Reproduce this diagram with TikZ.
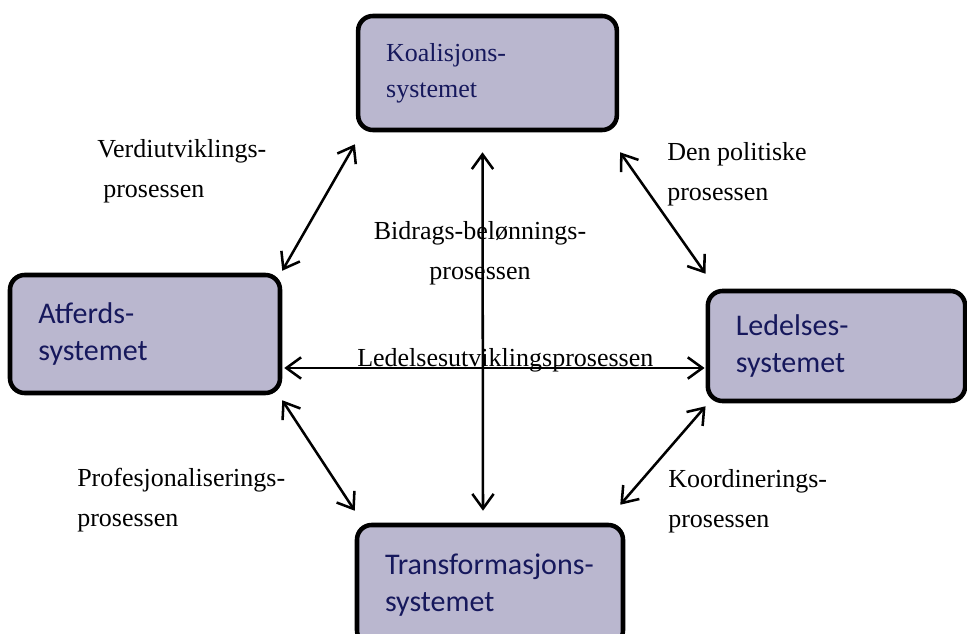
\documentclass[tikz,border=0pt]{standalone}
\usepackage{fontspec}
\setmainfont{Liberation Serif}
\newfontfamily\boxsans{Carlito}
\usetikzlibrary{arrows.meta,calc}
\definecolor{boxfill}{RGB}{186,183,207}
\definecolor{boxtext}{RGB}{22,24,92}
\tikzset{
  sysbox/.style={draw=black,line width=3.4pt,rounded corners=11pt,fill=boxfill,
    text=boxtext,align=left,inner xsep=0pt,inner ysep=0pt},
  syssans/.style={font=\boxsans\fontsize{22.5}{27.5}\selectfont},
  sysserif/.style={font=\fontsize{19.5}{27}\selectfont},
  prosarrow/.style={<->,>={Straight Barb[length=11pt,width=16pt]},line width=1.9pt},
  proslabel/.style={font=\fontsize{19.5}{30}\selectfont,align=left,inner sep=0pt}
}
\begin{document}
\begin{tikzpicture}[x=0.75pt,y=-0.75pt]
  \useasboundingbox (0,0) rectangle (967,634);

  % Systemene
  \node[sysbox,sysserif,minimum width=194pt,minimum height=85.5pt,text width=152pt]
    (koal) at (487.5,73) {Koalisjons-\\systemet};
  \node[sysbox,syssans,minimum width=202.5pt,minimum height=88.5pt,text width=160pt]
    (atf) at (145,334) {Atferds-\\systemet};
  \node[sysbox,syssans,minimum width=193pt,minimum height=82.5pt,text width=151pt]
    (led) at (836.5,346) {Ledelses-\\systemet};
  \node[sysbox,syssans,minimum width=199.5pt,minimum height=90pt,text width=157.5pt]
    (trans) at (490,585) {Transformasjons-\\systemet};

  % Prosessene mellom systemene
  \draw[prosarrow] ($(atf.north east)+(0,-2)$) -- ($(koal.south west)+(-1,12)$);
  \draw[prosarrow] ($(koal.south east)+(1,20)$) -- ($(led.north west)+(0,-15)$);
  \draw[prosarrow] ($(koal.south)+(-5,20)$) -- ($(trans.north)+(-7,-12)$);
  \draw[prosarrow] ($(atf.east)+(2,34)$) -- ($(led.west)+(-1,22)$);
  \draw[prosarrow] ($(atf.south east)+(0,5)$) -- ($(trans.north west)+(0,-12)$);
  \draw[prosarrow] ($(led.south west)+(0,3)$) -- ($(trans.north east)+(-5,-18)$);

  % base = siste linje
  \node[proslabel,anchor=base west] (verdi) at (97,198) {Verdiutviklings-\\\hspace*{4.5pt}prosessen};
  \node[proslabel,anchor=base west] (polit) at (667,201) {Den politiske\\prosessen};
  \node[proslabel,anchor=base,align=center] (bidrag) at (480,280) {Bidrags-belønnings-\\prosessen};
  \node[proslabel,anchor=base west] (ledutv) at (357,367) {Ledelsesutviklingsprosessen};
  \node[proslabel,anchor=base west] (prof) at (77,526) {Profesjonaliserings-\\prosessen};
  \node[proslabel,anchor=base west] (koord) at (668,527) {Koordinerings-\\prosessen};
\end{tikzpicture}
\end{document}
